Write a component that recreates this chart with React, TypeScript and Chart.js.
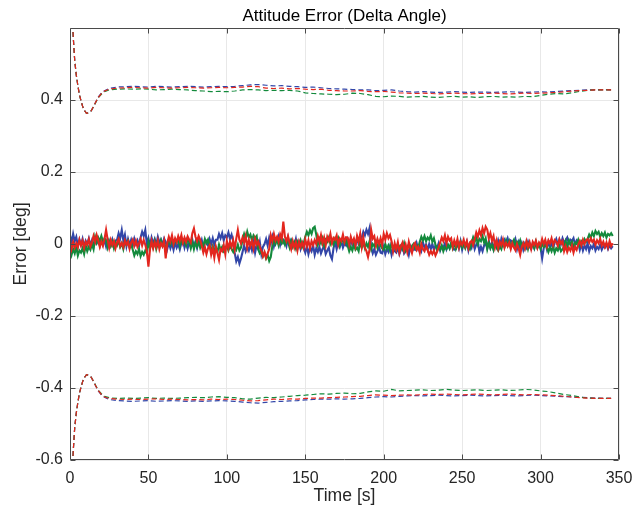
import React, { useEffect, useRef } from "react";
import { Chart, registerables } from "chart.js";

Chart.register(...registerables);

const TITLE = "Attitude Error (Delta Angle)";
const X_LABEL = "Time [s]";
const Y_LABEL = "Error [deg]";

// Error samples, one per second starting at t = 0 s (deg)
const NOISE_START = 0;
const NOISE_STEP = 1;

const RED_ERR = [
  .008,-.014,.005,-.010,.002,
  -.009,.012,-.004,.009,-.011,.006,-.002,.013,-.007,.004,
  .022,.006,.025,.010,
  -.008,.007,-.005,
  .014,.039,.012,
  -.010,.011,-.003,.008,-.012,.005,.014,-.006,.003,-.009,.010,-.002,.007,-.013,.004,.012,-.005,.009,-.008,.001,
  .014,-.004,.011,-.002,
  -.020,-.063,-.015,
  .008,-.012,.005,-.009,.010,-.014,.002,-.006,.009,
  -.040,
  .002,.020,.007,.024,.000,.016,.005,.022,.009,.025,.003,.018,.006,.021,.012,.004,
  .030,.043,.020,
  .008,.022,.012,
  -.005,-.024,-.009,-.028,-.012,
  -.004,-.030,-.012,-.038,-.008,-.025,-.044,-.014,-.020,-.003,-.028,
  .008,-.012,.006,-.009,.010,-.015,
  .015,.039,.012,
  .002,.018,.004,.022,
  -.010,.012,-.005,.009,-.013,.014,-.002,.007,-.008,
  -.018,-.034,-.022,-.038,-.026,-.014,
  .024,.008,.028,.010,.020,.006,.027,.015,
  .062,
  .020,.008,.022,.002,
  -.014,.008,-.010,.005,-.018,.006,-.008,.004,
  -.010,.013,-.006,.010,-.012,.008,-.003,.011,
  .000,.022,.006,.025,.002,.018,-.004,.020,.009,.028,.003,.017,.012,.024,-.002,.015,.008,.026,.005,.019,
  .018,-.002,.020,.004,.015,-.005,.022,.006,
  .028,-.008,.018,-.010,
  -.020,-.036,-.015,
  .039,.015,.022,
  -.004,.014,.000,.016,-.003,
  .028,.012,.030,.016,.025,.008,
  -.020,.002,-.015,.005,-.024,-.006,.004,-.018,-.002,-.022,.006,-.012,-.025,-.004,.003,-.016,-.008,-.024,.000,-.014,-.020,-.006,
  -.016,-.030,-.020,-.028,-.018,-.032,-.022,-.010,
  .004,.018,.008,.024,.002,.020,.010,.016,
  -.008,.010,-.004,.014,-.010,.006,-.002,.012,-.006,.008,-.012,.004,.009,-.003,
  .014,.032,.020,.038,.024,.044,.030,.048,
  .040,.016,.030,.010,.022,
  -.008,.010,-.012,.006,-.004,.012,-.010,.003,-.006,
  .004,-.014,.002,-.010,-.018,.000,-.012,-.030,-.008,.002,
  -.012,.008,-.008,.005,-.014,.006,-.003,.009,-.010,.004,
  -.004,.014,.000,.012,-.006,.010,.002,.016,-.003,.011,.006,-.005,.013,.001,.008,
  -.020,-.006,-.022,-.010,-.018,-.004,-.024,-.008,-.016,-.002,
  .008,-.004,.012,.000,.010,.014,.004,.016,.006,.012,-.002,.010,.002,.014,-.004,
  .006,-.008,.004,-.010,.008,-.006,.002,
];

const BLUE_ERR = [
  .024,.004,.028,.008,.020,
  -.006,.012,-.002,.014,-.008,.009,.000,.015,-.005,.010,-.009,.013,.002,.008,-.004,.016,-.001,.011,-.007,.014,.003,-.003,.012,-.006,.009,
  .012,.030,.016,.039,.010,.026,
  -.006,.014,-.002,.012,-.004,.015,.000,.010,-.005,
  .018,.034,.022,.039,
  .000,.016,-.004,.018,.002,.014,-.002,.020,.004,.012,-.003,.015,.006,
  -.014,.004,-.012,.002,-.016,.005,-.010,.000,-.015,.003,
  .010,-.010,.008,-.012,.004,-.006,.012,-.008,.006,-.011,.009,-.004,.011,-.009,.003,.008,
  -.004,.014,.000,.016,-.002,.012,
  .012,.028,.016,.030,.010,.024,.018,.032,.014,.026,.008,
  -.025,-.048,-.036,-.054,-.040,-.022,
  -.004,-.020,-.008,-.018,-.002,
  -.018,.004,-.024,-.002,-.014,.006,-.028,-.008,.000,
  .014,-.004,.018,.002,.020,-.006,.012,.008,.022,-.002,.016,.004,.010,-.005,.018,.000,.012,.006,-.004,.014,
  -.012,.004,-.014,.002,-.010,
  -.024,-.006,-.028,-.010,-.020,-.004,-.030,-.012,-.022,-.008,-.026,-.014,-.006,-.028,-.018,-.010,-.032,
  -.042,
  -.012,.006,-.014,.004,-.008,.008,-.010,.002,-.004,
  .012,-.006,.014,-.002,.010,-.004,.016,.000,.008,
  .018,.034,.024,.040,.028,.045,
  -.010,-.026,-.014,-.030,-.020,-.008,-.024,
  -.026,-.008,-.028,-.014,-.022,-.006,-.030,-.012,-.020,-.024,-.010,-.028,-.016,-.006,-.026,-.018,-.012,-.030,-.008,-.020,-.014,
  -.016,.002,-.014,-.004,-.018,.004,-.010,-.002,-.016,.000,
  -.014,.000,-.016,-.004,-.012,.002,-.018,-.006,-.010,.001,-.015,-.003,-.012,.000,-.008,-.016,
  -.014,.004,-.012,.008,-.016,.002,-.008,.006,-.018,.000,-.010,.010,-.014,-.002,.006,-.022,-.008,-.020,-.004,.002,
  -.012,.008,-.010,.004,-.014,.006,-.008,.010,-.006,
  .014,-.002,.012,.004,.016,.000,.010,.006,-.004,.012,
  -.014,.004,-.012,.002,-.016,.000,-.010,.006,-.008,-.014,.002,-.012,.004,-.010,-.002,
  -.010,-.040,-.012,.004,-.014,.006,-.008,.002,-.012,.004,
  .014,-.002,.012,.000,.016,.004,.010,.018,.002,.012,.008,.016,-.002,.010,.004,
  -.016,.000,-.018,-.004,-.014,.002,-.020,-.006,-.012,.000,-.018,-.008,-.014,-.002,-.016,-.006,-.010,.000,-.014,-.004,-.012,-.006,
];

const GREEN_ERR = [
  -.010,-.030,-.014,-.026,-.008,-.032,-.018,-.024,-.012,-.028,
  -.004,-.020,-.008,-.016,.000,-.014,
  .020,.004,.018,.008,.022,.006,.016,.010,
  -.010,.008,-.006,.006,-.012,.004,-.004,.010,-.008,.002,-.014,.006,-.002,.008,-.010,.000,
  -.016,-.032,-.020,-.028,-.014,-.034,-.022,-.030,-.018,-.026,
  .006,-.012,.004,-.010,.008,-.014,.002,-.008,.010,-.006,.000,-.010,
  -.004,.012,.000,.014,-.002,.010,.004,.016,-.006,.012,.002,.008,-.004,.014,.006,
  -.012,.006,-.014,.004,-.008,.008,-.010,.002,-.006,
  .014,.002,.012,
  -.004,-.020,-.006,-.018,-.010,-.022,-.002,-.016,-.008,-.020,-.012,-.004,-.018,-.006,-.014,-.022,-.008,-.016,-.002,-.018,-.010,
  .012,.028,.014,.034,.018,.026,.010,.024,.016,.022,
  -.014,-.026,-.020,-.034,-.024,-.040,-.030,-.047,-.036,
  -.006,.014,.000,.012,-.004,.016,.002,.010,-.002,.012,.006,
  -.010,.008,-.008,.004,-.012,.006,-.004,.010,-.008,.002,
  .020,.034,.024,.038,.028,.044,.048,.026,
  -.002,.014,.002,.016,-.004,.012,.006,.018,.000,.010,-.002,.014,.004,.016,-.004,.010,.008,.002,.012,
  -.004,-.020,-.008,-.018,-.002,-.016,-.010,-.020,
  .006,-.010,.004,-.012,.002,-.008,.008,-.014,.000,-.006,.006,-.010,.004,-.004,-.012,
  -.016,.000,-.014,-.004,-.018,.002,-.012,-.006,-.016,.000,-.010,-.004,-.014,.002,-.018,-.008,-.002,-.014,-.006,.000,-.012,-.004,-.010,
  .006,.020,.010,.022,.008,.018,.012,.024,.006,.016,
  -.002,-.018,-.006,-.016,-.004,-.020,-.008,-.014,-.002,-.012,
  .004,-.012,.002,-.014,-.002,-.008,.006,-.010,.000,-.012,.002,-.006,-.014,
  .002,.018,.006,.020,.000,.014,.008,.022,.004,.016,
  -.014,.004,-.012,-.002,-.016,.000,-.010,-.018,-.006,-.014,
  .006,-.008,.010,-.004,.008,-.010,.004,.012,-.006,.006,-.002,.010,-.008,.002,
  -.012,.004,-.014,.002,-.008,-.002,-.012,.006,-.010,.000,-.014,.002,-.008,-.004,
  -.008,-.022,-.010,-.020,-.006,-.024,-.012,-.018,-.006,-.020,-.014,
  -.008,.008,-.006,.010,-.002,.006,-.010,.004,.000,.012,-.004,.008,.002,.014,.006,
  .014,.026,.018,.032,.022,.036,.028,.034,
  .020,.030,.022,.032,.018,.028,.024,.030,.022,
];

// 3-sigma bound samples (deg)
const BOUND_TIME = [
  0,1,2,3,4,5,6,7,8,9,10.5,12,13.5,15,16.5,18,20,22,25,
  30,35,40,45,50,55,60,65,70,75,80,85,90,95,100,105,110,115,120,125,130,135,140,145,150,155,160,165,
  170,175,180,185,190,195,200,205,210,215,220,225,230,235,240,245,250,255,260,265,270,275,280,285,290,
  295,300,305,310,315,320,325,330,335,340,345,
];

const BLUE_UPPER = [
  .90,.70,.58,.51,.47,.44,.415,.398,.383,.372,.363,.365,.370,.382,.395,.408,.419,.426,.432,
  .436,.437,.438,.437,.436,.438,.437,.436,.437,.438,.437,.436,.437,.438,.437,.438,.440,.442,.443,.441,.439,.440,.438,.437,.435,.436,.434,.432,
  .431,.430,.429,.428,.428,.426,.427,.428,.425,.423,.422,.423,.422,.421,.422,.423,.422,.421,.422,.422,.421,.422,.423,.422,.421,
  .422,.423,.422,.424,.425,.426,.427,.428,.428,.429,.428,
];
const RED_UPPER = [
  .90,.70,.58,.51,.47,.44,.415,.398,.383,.372,.363,.365,.370,.382,.395,.407,.418,.425,.430,
  .433,.434,.435,.434,.433,.435,.434,.433,.434,.435,.434,.433,.434,.435,.434,.435,.436,.438,.437,.433,.432,.433,.431,.432,.430,.429,.430,.427,
  .426,.425,.425,.426,.424,.423,.424,.422,.420,.419,.418,.419,.418,.417,.418,.419,.418,.417,.418,.418,.419,.418,.417,.418,.419,
  .418,.419,.420,.421,.423,.425,.426,.427,.428,.428,.428,
];
const GREEN_UPPER = [
  .90,.70,.58,.51,.47,.44,.415,.398,.383,.372,.363,.365,.370,.381,.394,.406,.416,.423,.428,
  .430,.431,.430,.431,.430,.428,.429,.430,.429,.428,.426,.425,.423,.424,.423,.425,.428,.429,.428,.426,.427,.426,.427,.425,.420,.418,.417,.416,
  .415,.416,.419,.418,.415,.410,.409,.411,.410,.408,.409,.410,.408,.407,.409,.410,.408,.409,.407,.409,.410,.408,.409,.408,.410,
  .409,.413,.416,.418,.417,.420,.424,.427,.428,.428,.428,
];
const BLUE_LOWER = [
  -.90,-.70,-.58,-.51,-.47,-.44,-.415,-.398,-.383,-.372,-.363,-.365,-.370,-.382,-.395,-.408,-.419,-.426,-.432,
  -.435,-.436,-.437,-.436,-.435,-.437,-.436,-.435,-.436,-.437,-.436,-.437,-.436,-.435,-.436,-.437,-.439,-.441,-.442,-.440,-.438,-.437,-.436,-.435,-.433,-.432,-.431,-.431,
  -.430,-.431,-.430,-.429,-.427,-.425,-.424,-.425,-.423,-.422,-.421,-.422,-.421,-.420,-.421,-.422,-.421,-.420,-.421,-.422,-.421,-.420,-.421,-.422,-.421,
  -.420,-.421,-.422,-.423,-.424,-.425,-.426,-.427,-.428,-.429,-.429,
];
const RED_LOWER = [
  -.90,-.70,-.58,-.51,-.47,-.44,-.415,-.398,-.383,-.372,-.363,-.365,-.370,-.382,-.395,-.407,-.418,-.425,-.429,
  -.431,-.432,-.431,-.432,-.431,-.430,-.432,-.431,-.432,-.433,-.432,-.433,-.431,-.432,-.431,-.432,-.434,-.436,-.435,-.433,-.431,-.432,-.430,-.431,-.429,-.428,-.428,-.427,
  -.426,-.425,-.424,-.423,-.421,-.419,-.420,-.421,-.420,-.419,-.420,-.418,-.417,-.418,-.417,-.418,-.419,-.418,-.417,-.418,-.419,-.418,-.417,-.418,-.419,
  -.418,-.419,-.420,-.421,-.423,-.425,-.427,-.428,-.429,-.429,-.429,
];
const GREEN_LOWER = [
  -.90,-.70,-.58,-.51,-.47,-.44,-.415,-.398,-.383,-.372,-.363,-.365,-.370,-.381,-.394,-.406,-.416,-.423,-.427,
  -.429,-.428,-.429,-.428,-.427,-.429,-.428,-.429,-.428,-.427,-.426,-.427,-.425,-.424,-.426,-.427,-.430,-.431,-.428,-.426,-.427,-.425,-.423,-.421,-.420,-.418,-.416,-.417,
  -.415,-.414,-.416,-.415,-.411,-.408,-.409,-.404,-.408,-.407,-.406,-.405,-.407,-.406,-.404,-.406,-.407,-.406,-.405,-.407,-.406,-.405,-.407,-.406,-.404,
  -.405,-.408,-.410,-.414,-.418,-.421,-.425,-.428,-.429,-.429,-.429,
];

const X_MIN = 0;
const X_MAX = 350;
const X_STEP = 50;
const Y_MIN = -0.6;
const Y_MAX = 0.6;
const Y_STEP = 0.2;

const BLUE = "#3246a8";
const GREEN = "#138a3c";
const RED = "#e3261e";
const FONT = "'Liberation Sans', Arial, Helvetica, sans-serif";
const TEXT = "#262626";
const AXIS = "#4a4a4a";
const GRID = "#e8e8e8";

const noisePts = (arr: number[]) => arr.map((v, i) => ({ x: NOISE_START + i * NOISE_STEP, y: v }));
const boundPts = (arr: number[]) => arr.map((v, i) => ({ x: BOUND_TIME[i], y: v }));

const framePlugin = {
  id: "frame",
  afterDatasetsDraw(chart: any) {
    const { ctx, chartArea } = chart;
    const { left, right, top, bottom } = chartArea;
    const xs = chart.scales.x;
    const ys = chart.scales.y;
    ctx.save();
    ctx.strokeStyle = AXIS;
    ctx.lineWidth = 1;
    const L = Math.round(left) + 0.5;
    const R = Math.round(right) - 0.5;
    const T = Math.round(top) + 0.5;
    const B = Math.round(bottom) - 0.5;
    ctx.beginPath();
    ctx.rect(L, T, R - L, B - T);
    ctx.stroke();
    const tl = 5;
    ctx.beginPath();
    xs.ticks.forEach((t: any) => {
      const px = Math.round(xs.getPixelForValue(t.value)) + 0.5;
      ctx.moveTo(px, B);
      ctx.lineTo(px, B - tl);
      ctx.moveTo(px, T);
      ctx.lineTo(px, T + tl);
    });
    ys.ticks.forEach((t: any) => {
      const py = Math.round(ys.getPixelForValue(t.value)) + 0.5;
      ctx.moveTo(L, py);
      ctx.lineTo(L + tl, py);
      ctx.moveTo(R, py);
      ctx.lineTo(R - tl, py);
    });
    ctx.stroke();
    ctx.restore();
  },
  afterDraw(chart: any) {
    const { ctx, chartArea } = chart;
    const { left, right, top, bottom } = chartArea;
    const cx = (left + right) / 2;
    ctx.save();
    ctx.fillStyle = "#000";
    ctx.textAlign = "center";
    ctx.textBaseline = "middle";
    ctx.font = `17px ${FONT}`;
    ctx.fillText(TITLE, cx, top - 12);
    ctx.fillStyle = TEXT;
    ctx.font = `17.6px ${FONT}`;
    ctx.fillText(X_LABEL, cx, bottom + 36);
    ctx.translate(21, (top + bottom) / 2);
    ctx.rotate(-Math.PI / 2);
    ctx.fillText(Y_LABEL, 0, 0);
    ctx.restore();
  },
};

export default function App() {
  const ref = useRef<HTMLCanvasElement | null>(null);
  useEffect(() => {
    if (!ref.current) return;
    const lineBase = { pointRadius: 0, tension: 0, fill: false };
    const dashed = { ...lineBase, borderWidth: 1.2, borderDash: [5, 3] };
    const solidW = 2.1;
    const chart = new Chart(ref.current, {
      type: "line",
      data: {
        datasets: [
          { ...lineBase, label: "x", data: noisePts(BLUE_ERR), borderColor: BLUE, borderWidth: solidW, order: 6 },
          { ...lineBase, label: "y", data: noisePts(GREEN_ERR), borderColor: GREEN, borderWidth: solidW, order: 5 },
          { ...lineBase, label: "z", data: noisePts(RED_ERR), borderColor: RED, borderWidth: solidW, order: 4 },
          { ...dashed, label: "x+", data: boundPts(BLUE_UPPER), borderColor: BLUE, order: 3 },
          { ...dashed, label: "x-", data: boundPts(BLUE_LOWER), borderColor: BLUE, order: 3 },
          { ...dashed, label: "y+", data: boundPts(GREEN_UPPER), borderColor: GREEN, order: 2 },
          { ...dashed, label: "y-", data: boundPts(GREEN_LOWER), borderColor: GREEN, order: 2 },
          { ...dashed, label: "z+", data: boundPts(RED_UPPER), borderColor: RED, order: 1 },
          { ...dashed, label: "z-", data: boundPts(RED_LOWER), borderColor: RED, order: 1 },
        ],
      },
      options: {
        responsive: false,
        animation: false,
        devicePixelRatio: 1,
        events: [],
        layout: { padding: { top: 28, right: 25, bottom: 0, left: 0 } },
        plugins: {
          legend: { display: false },
          tooltip: { enabled: false },
          title: { display: false },
        },
        scales: {
          x: {
            type: "linear",
            min: X_MIN,
            max: X_MAX,
            border: { display: false },
            grid: { color: GRID, lineWidth: 1, drawTicks: false },
            ticks: {
              stepSize: X_STEP,
              padding: 9,
              maxRotation: 0,
              autoSkip: false,
              color: TEXT,
              font: { family: FONT, size: 16 },
            },
            afterFit: (s: any) => {
              s.height = 53;
            },
          },
          y: {
            type: "linear",
            min: Y_MIN,
            max: Y_MAX,
            border: { display: false },
            grid: { color: GRID, lineWidth: 1, drawTicks: false },
            ticks: {
              stepSize: Y_STEP,
              padding: 7,
              color: TEXT,
              font: { family: FONT, size: 16 },
              callback: (v: any) => {
                const n = Number(v);
                if (Math.abs(n) < 1e-9) return "0";
                return String(Number(n.toFixed(1)));
              },
            },
            afterBuildTicks: (s: any) => {
              s.ticks = s.ticks.filter((t: any) => t.value < Y_MAX - 1e-6);
            },
            afterFit: (s: any) => {
              s.width = 70;
            },
          },
        },
      },
      plugins: [framePlugin],
    } as any);
    return () => chart.destroy();
  }, []);
  return (
    <div style={{ position: "absolute", left: 0, top: 0, width: 644, height: 513, background: "#fff" }}>
      <canvas ref={ref} width={644} height={513} style={{ display: "block" }} />
    </div>
  );
}
